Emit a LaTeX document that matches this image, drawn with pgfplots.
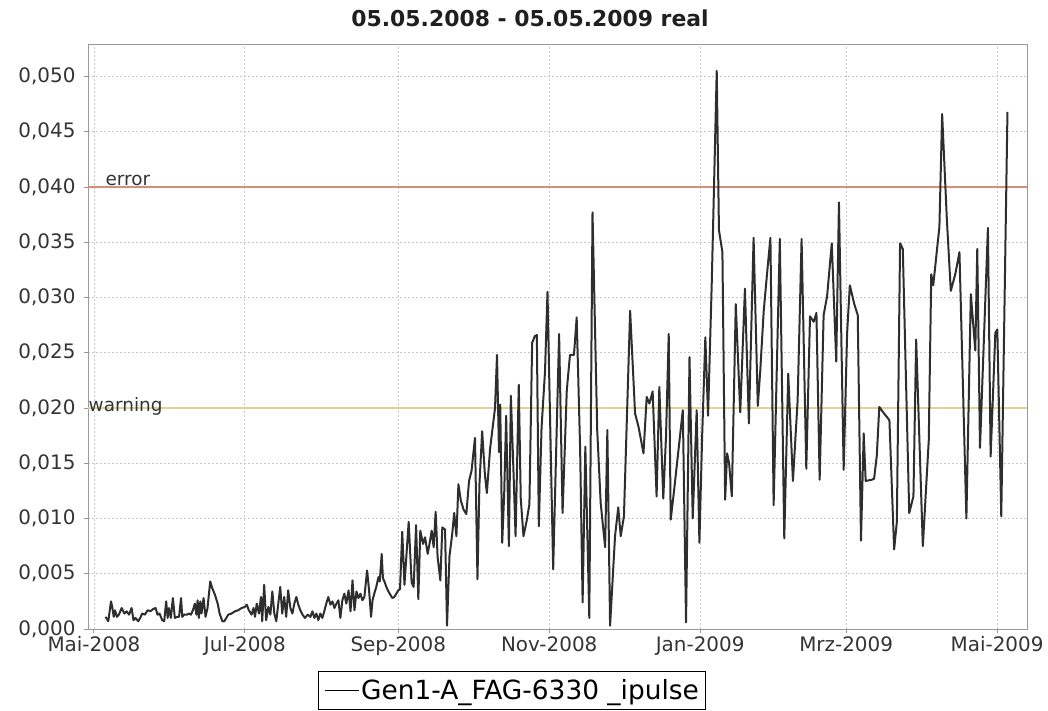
\documentclass[border=0pt]{standalone}
\usepackage{pgfplots}
\pgfplotsset{compat=1.18}
\usepackage{fontspec}
\setmainfont{DejaVu Sans}
\definecolor{errcol}{RGB}{218,140,122}
\definecolor{warncol}{RGB}{224,210,150}
\definecolor{gridcol}{RGB}{200,200,200}
\begin{document}
\begin{tikzpicture}
\begin{axis}[
  scale only axis, width=939bp, height=585bp,
  at={(0,0)}, anchor=south west,
  xmin=-2.4, xmax=377.1, ymin=0, ymax=0.05294,
  xtick={0,61,123,184,245,304,365},
  xticklabels={Mai-2008,Jul-2008,Sep-2008,Nov-2008,Jan-2009,Mrz-2009,Mai-2009},
  ytick={0,0.005,0.01,0.015,0.02,0.025,0.03,0.035,0.04,0.045,0.05},
  scaled y ticks=false,
  y tick label style={xshift=-5bp, /pgf/number format/fixed, /pgf/number format/fixed zerofill, /pgf/number format/precision=3, /pgf/number format/use comma},
  /pgf/number format/assume math mode=true,
  tick label style={font=\fontsize{20}{22}\selectfont, text=black!80},
  tick align=outside, major tick length=4bp, tick pos=left,
  grid=major, major grid style={gridcol, dash pattern=on 2bp off 2bp, line width=0.8bp},
  axis line style={gray!80, line width=0.9bp},
  tick style={gray!80, line width=0.9bp},
  legend style={at={(0.452,-0.0718)}, anchor=north, draw=black, line width=1bp,
    font=\fontsize{26.5}{28}\selectfont, inner xsep=5bp, inner ysep=6bp},
  legend cell align=left,
  legend image code/.code={\draw[black, line width=1.2bp] (0bp,0bp) -- (34bp,0bp);},
]
\addplot[errcol, line width=1.1bp, forget plot] coordinates {(-2.4,0.04) (377.1,0.04)};
\addplot[warncol, line width=1.1bp, forget plot] coordinates {(-2.4,0.02) (377.1,0.02)};
\node[anchor=base west, font=\fontsize{18.5}{20}\selectfont, text=black!80, inner sep=0pt] at (axis cs:4.6,0.0401) {error};
\node[anchor=base west, font=\fontsize{18.5}{20}\selectfont, text=black!80, inner sep=0pt] at (axis cs:-2.2,0.0197) {warning};
\addplot[black!82, line width=2bp, mark=none, line join=round] coordinates {
(4.7,0.0011) (5.8,0.0007) (6.9,0.0025) (7.4,0.0020) (8.0,0.0011) (8.5,0.0017) (9.3,0.0011) (10.1,0.0013)
(11.2,0.0019) (12.3,0.0014) (13.2,0.0016) (14.2,0.0013) (15.2,0.0019) (16.0,0.0008) (16.8,0.0010) (17.9,0.0007)
(18.7,0.0010) (19.5,0.0014) (20.6,0.0013) (21.7,0.0017) (22.8,0.0016) (23.9,0.0018) (24.9,0.0019) (25.7,0.0013)
(26.5,0.0014) (27.6,0.0008) (28.4,0.0007) (29.2,0.0025) (29.8,0.0010) (30.3,0.0019) (31.1,0.0010) (31.9,0.0028)
(32.7,0.0010) (33.5,0.0011) (34.4,0.0011) (35.2,0.0028) (35.7,0.0011) (36.5,0.0013) (37.6,0.0013) (38.4,0.0014)
(39.2,0.0013) (40.0,0.0017) (40.8,0.0023) (41.4,0.0013) (41.9,0.0026) (42.4,0.0010) (43.0,0.0025) (43.5,0.0014)
(44.3,0.0028) (45.1,0.0011) (45.9,0.0019) (47.0,0.0043) (47.8,0.0037) (48.9,0.0031) (50.0,0.0023) (50.8,0.0014)
(51.9,0.0007) (52.7,0.0007) (53.5,0.0010) (54.3,0.0013) (55.6,0.0014) (57.0,0.0016) (58.3,0.0017) (59.7,0.0019)
(61.0,0.0020) (61.8,0.0022) (62.6,0.0017) (63.7,0.0013) (64.5,0.0019)
(65.1,0.0011) (65.8,0.0023) (66.7,0.0014) (67.5,0.0029) (68.0,0.0007) (68.8,0.0040) (69.6,0.0008) (70.5,0.0020)
(71.3,0.0013) (72.1,0.0034) (72.9,0.0014) (73.7,0.0007) (74.5,0.0023) (75.3,0.0038) (76.1,0.0014) (76.9,0.0029)
(77.7,0.0011) (78.5,0.0035) (79.4,0.0019) (80.2,0.0014) (81.0,0.0023) (81.8,0.0029) (82.6,0.0022) (83.4,0.0017)
(84.3,0.0013) (85.3,0.0010) (86.4,0.0013) (87.5,0.0011) (88.3,0.0016) (89.1,0.0010) (89.9,0.0014) (90.7,0.0008)
(91.5,0.0014) (92.3,0.0010) (93.1,0.0016) (93.9,0.0023) (94.7,0.0029) (95.6,0.0022) (96.4,0.0025) (97.2,0.0019)
(98.0,0.0023) (98.8,0.0026) (99.6,0.0010) (100.4,0.0026) (101.2,0.0032) (102.0,0.0023) (102.9,0.0035) (103.7,0.0016)
(104.5,0.0044) (105.3,0.0017) (106.1,0.0034) (106.9,0.0028) (107.7,0.0032) (108.5,0.0026) (109.3,0.0029) (110.4,0.0053)
(111.2,0.0035) (112.0,0.0011) (112.6,0.0026) (113.3,0.0032) (114.1,0.0038) (115.0,0.0047) (115.5,0.0043) (116.3,0.0068)
(116.8,0.0046) (117.4,0.0043) (118.2,0.0038) (119.0,0.0034) (119.8,0.0031) (120.6,0.0028) (121.4,0.0029) (122.2,0.0032)
(123.0,0.0035) (123.7,0.0036)
(124.6,0.0088) (125.5,0.0040) (127.2,0.0097) (128.4,0.0042) (129.2,0.0038) (130.2,0.0094) (131.1,0.0027) (131.9,0.0089)
(133.0,0.0077) (133.8,0.0083) (134.9,0.0068) (135.7,0.0078) (136.5,0.0089) (137.3,0.0074) (138.1,0.0106) (138.9,0.0065)
(140.0,0.0044) (140.8,0.0092) (141.9,0.0090) (142.7,0.0003) (143.7,0.0066) (144.8,0.0086) (145.6,0.0105) (146.5,0.0084)
(147.3,0.0131) (148.3,0.0116) (149.4,0.0108) (150.5,0.0104) (151.6,0.0134) (152.6,0.0143) (154.0,0.0173) (155.0,0.0045)
(155.8,0.0131) (156.9,0.0179) (158.0,0.0140) (158.8,0.0123) (160.1,0.0163) (162.1,0.0200) (162.9,0.0248) (163.7,0.0160)
(164.2,0.0203) (165.0,0.0078) (165.8,0.0122) (166.6,0.0193) (167.7,0.0075) (168.5,0.0211) (169.6,0.0140) (170.4,0.0084)
(171.7,0.0221) (172.5,0.0118) (173.6,0.0084) (174.9,0.0098) (176.0,0.0113) (177.1,0.0259) (178.2,0.0265) (179.0,0.0266)
(179.8,0.0093) (180.9,0.0182) (182.3,0.0233) (183.3,0.0305) (185.6,0.0054) (188.0,0.0267)
(189.4,0.0105) (191.1,0.0216) (192.4,0.0248) (194.0,0.0248) (195.1,0.0282) (196.5,0.0162) (197.5,0.0024) (198.6,0.0165)
(200.2,0.0010) (201.5,0.0377) (203.4,0.0180) (204.8,0.0114) (206.6,0.0074) (207.5,0.0180) (208.6,0.0003) (210.6,0.0084)
(211.9,0.0110) (212.9,0.0084) (214.2,0.0102) (216.7,0.0288) (218.7,0.0195) (220.1,0.0183) (222.1,0.0159) (223.4,0.0210)
(224.5,0.0204) (225.8,0.0215) (227.4,0.0120) (228.5,0.0219) (230.1,0.0118) (231.2,0.0174) (232.3,0.0267) (233.1,0.0099)
(234.2,0.0120) (238.0,0.0198) (239.3,0.0006) (240.7,0.0246) (242.0,0.0100) (243.6,0.0198) (244.7,0.0078) (245.8,0.0174)
(247.1,0.0264) (248.2,0.0193) (249.7,0.0314) (251.7,0.0505)
(252.6,0.0361) (254.0,0.0341) (255.1,0.0117) (255.9,0.0159) (256.7,0.0150) (257.8,0.0120) (259.4,0.0294) (261.2,0.0196)
(263.1,0.0308) (264.7,0.0186) (266.6,0.0354) (268.3,0.0202) (269.3,0.0234) (270.7,0.0288) (272.3,0.0328) (273.4,0.0354)
(274.7,0.0112) (277.2,0.0353) (279.0,0.0082) (280.6,0.0231) (282.5,0.0134) (284.4,0.0207) (286.0,0.0353) (287.9,0.0145)
(289.4,0.0283) (290.9,0.0278) (292.0,0.0286) (293.3,0.0135) (294.9,0.0284) (296.3,0.0301) (298.2,0.0349) (300.0,0.0242)
(301.1,0.0386) (303.0,0.0144) (304.4,0.0268) (305.5,0.0311) (307.3,0.0294) (308.7,0.0284) (310.0,0.0080) (311.1,0.0177)
(311.9,0.0134) (314.3,0.0135) (315.3,0.0136) (316.4,0.0157) (317.4,0.0201) (319.0,0.0196) (321.5,0.0189) (323.4,0.0072)
(324.5,0.0097) (325.8,0.0349) (326.9,0.0344) (329.5,0.0105) (331.2,0.0120) (332.3,0.0262) (335.0,0.0075) (337.4,0.0171)
(338.4,0.0321) (339.2,0.0311) (341.7,0.0364) (342.8,0.0466) (344.7,0.0371) (346.3,0.0306) (348.1,0.0321) (349.8,0.0341)
(352.6,0.0100) (354.4,0.0303) (356.2,0.0252) (357.0,0.0344) (358.1,0.0164) (361.3,0.0363) (362.4,0.0156) (364.3,0.0268)
(365.1,0.0271) (366.7,0.0102) (369.2,0.0468)
};
\addlegendentry{Gen1-A\_FAG-6330 \_ipulse}
\end{axis}
\node[anchor=base, font=\fontsize{22}{24}\selectfont\bfseries, text=black!88] at (442bp,602bp) {05.05.2008 - 05.05.2009 real};
\pgfresetboundingbox
\useasboundingbox (-88bp,-82bp) rectangle (960bp,629bp);
\end{tikzpicture}
\end{document}
